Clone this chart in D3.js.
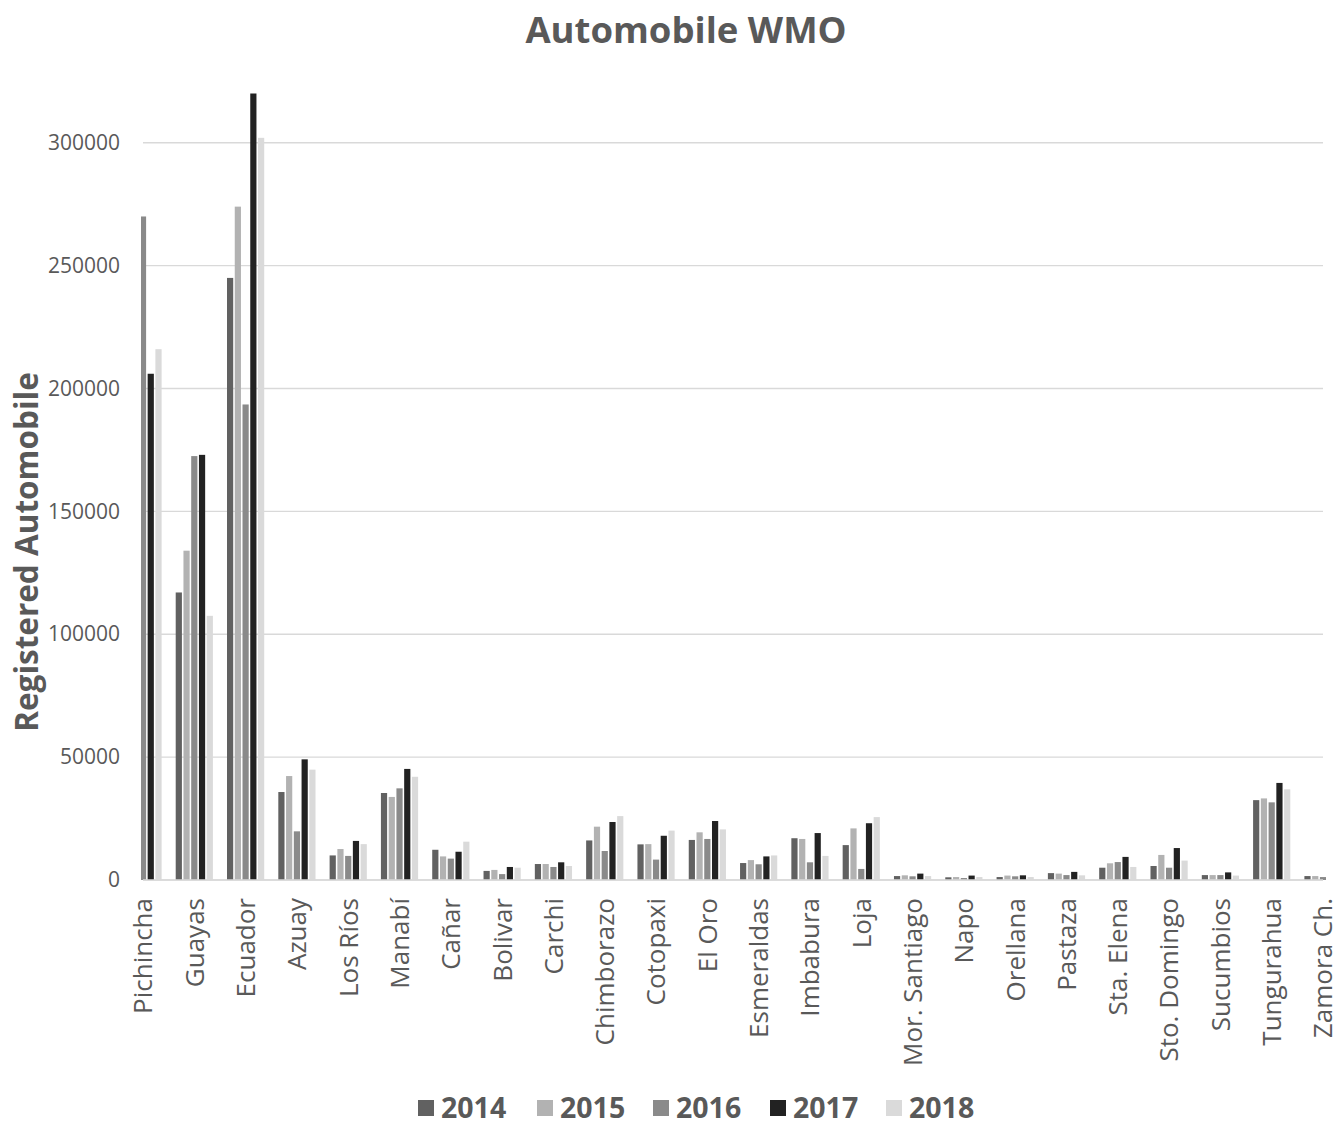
<!DOCTYPE html>
<html>
<head>
<meta charset="utf-8">
<script src="https://cdn.jsdelivr.net/npm/d3@7"></script>
<style>
  html, body { margin: 0; padding: 0; background: #ffffff; }
  svg { display: block; font-family: "Open Sans", "Noto Sans", sans-serif; }
</style>
</head>
<body>
<svg id="chart" width="1342" height="1125"></svg>
<script>
// ---- data ----
const categories = ["Pichincha","Guayas","Ecuador","Azuay","Los Ríos","Manabí","Cañar","Bolivar","Carchi","Chimborazo","Cotopaxi","El Oro","Esmeraldas","Imbabura","Loja","Mor. Santiago","Napo","Orellana","Pastaza","Sta. Elena","Sto. Domingo","Sucumbios","Tungurahua","Zamora Ch."];
const years = ["2014","2015","2016","2017","2018"];
const v2014 = [null,117000,245000,35800,10000,35400,12300,3700,6500,16100,14500,16300,6900,17000,14200,1600,1100,1200,2800,5000,5700,2000,32500,1600];
const v2015 = [null,134000,274000,42300,12600,33800,9600,4100,6500,21700,14600,19400,8100,16700,21000,1900,1200,1800,2600,6800,10200,2000,33200,1600];
const v2016 = [270000,172500,193500,19800,9800,37300,8700,2400,5300,11800,8300,16700,6400,7200,4500,1500,800,1500,2000,7300,5000,2000,31600,1200];
const v2017 = [206000,173000,325000,49100,15900,45200,11500,5300,7200,23600,18000,24000,9600,19100,23100,2600,1800,1900,3300,9400,13000,3100,39500,null];
const v2018 = [216000,107500,302000,44900,14600,42000,15600,5000,5700,26000,20100,20600,10000,9800,25600,1600,1200,1200,1900,5300,7900,1800,36900,null];
const yTicks = [0,50000,100000,150000,200000,250000,300000];
const colors = ["#616161","#b2b2b2","#8a8a8a","#222222","#dadada"];
const title = "Automobile WMO";
const yTitle = "Registered Automobile";

const seriesValues = [v2014, v2015, v2016, v2017, v2018];
const table = categories.map((c, i) => ({cat: c, vals: years.map((y, j) => ({year: y, value: seriesValues[j][i]}))}));

// ---- layout ----
const svg = d3.select("#chart");
const plotL = 143, plotR = 1323, plotT = 93.6, plotB = 880;
const step = (plotR - plotL) / (categories.length - 1);
const textColor = "#595959";

const x0 = d3.scaleBand().domain(categories).range([plotL - step/2, plotR + step/2]).padding(0);
const innerW = 37.2;
const x1 = d3.scaleBand().domain(years)
  .range([x0.bandwidth()/2 - innerW/2, x0.bandwidth()/2 + innerW/2])
  .paddingInner(0.2).paddingOuter(0);
const y = d3.scaleLinear().domain([0, 320000]).range([plotB, plotT]);
const color = d3.scaleOrdinal().domain(years).range(colors);

// clip
svg.append("defs").append("clipPath").attr("id", "plotclip")
  .append("rect").attr("x", 141).attr("y", plotT).attr("width", 1326 - 141).attr("height", plotB - plotT);

// gridlines
svg.append("g").selectAll("line").data(yTicks).join("line")
  .attr("x1", plotL).attr("x2", plotR)
  .attr("y1", d => y(d)).attr("y2", d => y(d))
  .attr("stroke", "#d9d9d9").attr("stroke-width", 1.3);

// y tick labels via axis
const yAxis = svg.append("g").attr("transform", `translate(${plotL},0)`)
  .call(d3.axisLeft(y).tickValues(yTicks).tickFormat(d3.format("d")).tickSize(0).tickPadding(23));
yAxis.select(".domain").remove();
yAxis.selectAll("text").attr("fill", textColor).attr("font-size", 21)
  .attr("font-family", '"Open Sans", sans-serif');

// bars
const groups = svg.append("g").attr("clip-path", "url(#plotclip)")
  .selectAll("g").data(table).join("g")
  .attr("transform", d => `translate(${x0(d.cat)},0)`);
groups.selectAll("rect").data(d => d.vals.filter(v => v.value != null)).join("rect")
  .attr("x", d => x1(d.year))
  .attr("width", x1.bandwidth())
  .attr("y", d => y(d.value))
  .attr("height", d => plotB - y(d.value))
  .attr("fill", d => color(d.year));

// baseline
svg.append("line").attr("x1", plotL).attr("x2", plotR).attr("y1", plotB).attr("y2", plotB)
  .attr("stroke", "#d9d9d9").attr("stroke-width", 1.5);

// x labels
svg.append("g").selectAll("text").data(categories).join("text")
  .attr("transform", d => `translate(${x0(d) + x0.bandwidth()/2},898) rotate(-90)`)
  .attr("text-anchor", "end").attr("dy", "0.36em")
  .attr("font-size", 26).attr("fill", textColor)
  .text(d => d);

// title
svg.append("text").attr("x", 686).attr("y", 43).attr("text-anchor", "middle")
  .attr("font-size", 36.5).attr("font-weight", "bold").attr("fill", textColor).text(title);

// y title
svg.append("text").attr("transform", "translate(38,552) rotate(-90)")
  .attr("text-anchor", "middle").attr("font-size", 31.5).attr("font-weight", "bold")
  .attr("fill", textColor).text(yTitle);

// legend
const legendX = [418, 537, 653, 770, 886];
const lg = svg.append("g").selectAll("g").data(years).join("g")
  .attr("transform", (d, i) => `translate(${legendX[i]},1100)`);
lg.append("rect").attr("width", 16).attr("height", 16).attr("fill", d => color(d));
lg.append("text").attr("x", 23).attr("y", 8).attr("dy", "0.36em")
  .attr("font-size", 28.5).attr("font-weight", "bold").attr("fill", textColor).text(d => d);
</script>
</body>
</html>
